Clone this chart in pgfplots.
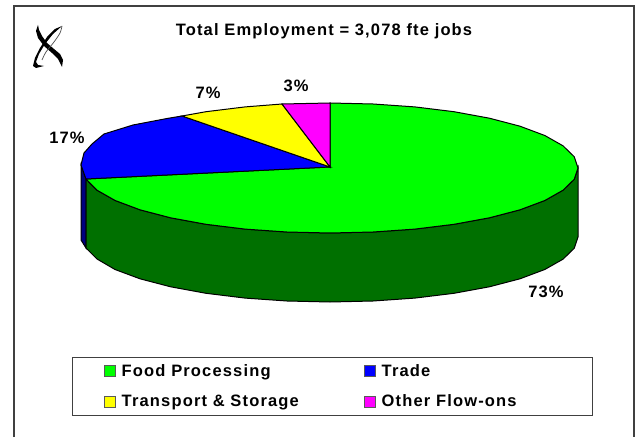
\documentclass[border=0pt]{standalone}
\usepackage{fontspec}
\setmainfont{Liberation Sans}[LetterSpace=7]
\usepackage{pgfplots}
\pgfplotsset{compat=1.18}

\definecolor{pgreen}{RGB}{0,255,0}
\definecolor{pblue}{RGB}{0,0,255}
\definecolor{pyellow}{RGB}{255,255,0}
\definecolor{pmagenta}{RGB}{255,0,255}
\definecolor{sgreen}{RGB}{0,112,0}
\definecolor{sblue}{RGB}{0,0,128}
\definecolor{frame}{RGB}{64,64,64}

\begin{document}
\begin{tikzpicture}
\begin{axis}[
    scale only axis,
    width=637pt,
    height=437pt,
    xmin=0, xmax=637,
    ymin=0, ymax=437,
    y dir=reverse,
    hide axis,
    clip=false,
    legend columns=2,
    legend cell align=left,
    legend style={
        at={(0.1135,0.183)},
        anchor=north west,
        draw=frame,
        line width=0.9pt,
        font=\fontsize{16.5}{18}\selectfont\bfseries,
        inner xsep=0pt,
        inner ysep=5pt,
        row sep=13pt,
        /tikz/every even column/.append style={column sep=0pt},
    },
    legend image code/.code={
        \path[draw=none,fill=none] (0pt,0pt) -- (47pt,0pt);
        \draw[#1,draw=black!65,line width=1.1pt] (32pt,-5.5pt) rectangle (43pt,5.5pt);
    },
]
% frame and page extent
\path (axis cs:0,0) rectangle (axis cs:637,437);
\draw[frame,line width=1.6pt] (axis cs:14,437) -- (axis cs:14,6) -- (axis cs:634,6) -- (axis cs:634,437);

% logo
\addplot[fill=black,draw=none,forget plot] coordinates {
    (38,25) (36,31) (38,38) (44,46) (52,53) (58,59) (62,67) (63,60) (60,54)
    (54,49) (47,43) (42,36) (39,30)
} -- cycle;
\addplot[fill=black,draw=none,forget plot] coordinates {
    (62,26) (55,29) (47,37) (40,48) (35,58) (33,66) (36,68) (44,66) (38,65)
    (36,62) (39,54) (45,44) (53,34)
} -- cycle;
\addplot[black!70,line width=0.7pt,smooth,forget plot] coordinates {
    (62,26) (60,33) (54,42) (46,52) (42,60)
};

% side of the pie
\addplot[fill=sblue,draw=black,line width=1pt,forget plot] coordinates {
    (81,165) (81,240) (86,248) (86,179)
} -- cycle;
\addplot[fill=sgreen,draw=black,line width=1pt,forget plot] coordinates {
    (86,179) (86,248) (97,259) (115,269.5) (140,278.8) (170.6,286.8) (206,293.3)
    (245.2,298.1) (286.9,301) (330,302) (373.1,301) (414.8,298.1) (454,293.3)
    (489.4,286.8) (520,278.8) (544.8,269.5) (563,259.2) (574.2,248.3) (578,237)
    (578,168) (574.2,179.3) (563,190.2) (544.8,200.5) (520,209.8) (489.4,217.8)
    (454,224.3) (414.8,229.1) (373.1,232) (330,233) (286.9,232) (245.2,229.1)
    (206,224.3) (170.6,217.8) (140,209.8) (115.2,200.5) (97,190.2)
} -- cycle;

% top of the pie
\addplot[fill=pgreen,draw=black,line width=1pt] coordinates {
    (330,167) (330,103) (373.1,104) (414.8,106.9) (454,111.7) (489.4,118.2)
    (520,126.2) (544.8,135.5) (563,145.8) (574.2,156.7) (578,168) (574.2,179.3)
    (563,190.2) (544.8,200.5) (520,209.8) (489.4,217.8) (454,224.3) (414.8,229.1)
    (373.1,232) (330,233) (286.9,232) (245.2,229.1) (206,224.3) (170.6,217.8)
    (140,209.8) (115.2,200.5) (97,190.2) (86,179)
} -- cycle;
\addlegendentry{\makebox[209pt][l]{Food Processing}}
\addplot[fill=pblue,draw=black,line width=1pt] coordinates {
    (330,167) (86,179) (81,165) (84,153) (92,144) (104,134) (133,125) (167,118.5) (182,116)
} -- cycle;
\addlegendentry{\makebox[209pt][l]{Trade}}
\addplot[fill=pyellow,draw=black,line width=1pt] coordinates {
    (330,167) (182,116) (206,111.7) (245.2,106.9) (282,104)
} -- cycle;
\addlegendentry{Transport \& Storage}
\addplot[fill=pmagenta,draw=black,line width=1pt] coordinates {
    (330,167) (282,104) (330,103)
} -- cycle;
\addlegendentry{Other Flow-ons}

% labels
\node[font=\fontsize{16.5}{18}\selectfont\bfseries] at (axis cs:324,31) {Total Employment = 3,078 fte jobs};
\node[font=\fontsize{16.5}{18}\selectfont\bfseries] at (axis cs:67,138) {17\%};
\node[font=\fontsize{16.5}{18}\selectfont\bfseries] at (axis cs:208,93) {7\%};
\node[font=\fontsize{16.5}{18}\selectfont\bfseries] at (axis cs:296,86) {3\%};
\node[font=\fontsize{16.5}{18}\selectfont\bfseries] at (axis cs:546,292) {73\%};
\end{axis}
\end{tikzpicture}
\end{document}
